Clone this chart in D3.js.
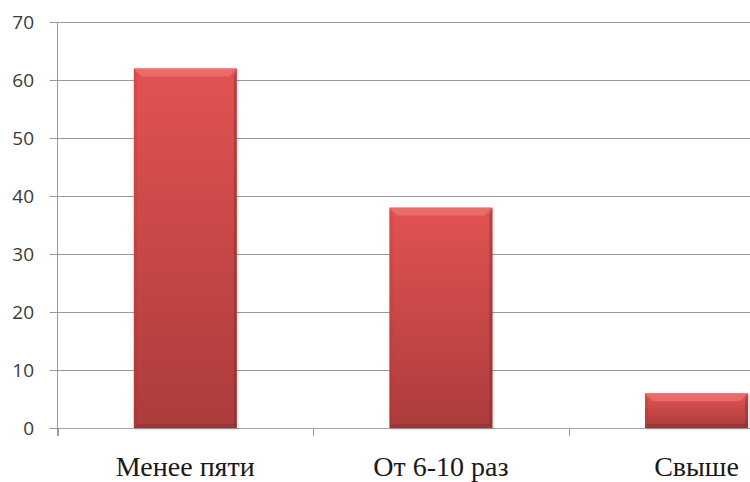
<!DOCTYPE html>
<html>
<head>
<meta charset="utf-8">
<script src="https://cdn.jsdelivr.net/npm/d3@7"></script>
<style>
  html, body { margin: 0; padding: 0; background: #fff; }
  svg { display: block; }
</style>
</head>
<body>
<script>
var categories = ["Менее пяти", "От 6-10 раз", "Свыше"];
var values = [62, 38, 6];
var yTicks = [0, 10, 20, 30, 40, 50, 60, 70];

var width = 750, height = 482;
var plotLeft = 57.5, plotTop = 22, plotBottom = 428;
var step = 255.6;

var svg = d3.select("body").append("svg")
    .attr("width", width)
    .attr("height", height);

var defs = svg.append("defs");
var grad = defs.append("linearGradient")
    .attr("id", "barGrad")
    .attr("x1", 0).attr("y1", 0).attr("x2", 0).attr("y2", 1);
grad.append("stop").attr("offset", "0%").attr("stop-color", "#e25352");
grad.append("stop").attr("offset", "100%").attr("stop-color", "#ac3c3c");

var x = d3.scaleBand()
    .domain(categories)
    .range([plotLeft, plotLeft + step * categories.length])
    .padding(0);

var y = d3.scaleLinear()
    .domain([0, 70])
    .range([plotBottom, plotTop]);

// gridlines
svg.append("g").selectAll("line")
    .data(yTicks)
    .enter().append("line")
    .attr("x1", plotLeft)
    .attr("x2", width)
    .attr("y1", function(d){ return Math.round(y(d)) + 0.5; })
    .attr("y2", function(d){ return Math.round(y(d)) + 0.5; })
    .attr("stroke", function(d){ return d == 0 ? "#a6a6a6" : "#9a9a9a"; })
    .attr("stroke-width", 1);

// y axis line and ticks
svg.append("line")
    .attr("x1", plotLeft).attr("x2", plotLeft)
    .attr("y1", plotTop).attr("y2", plotBottom + 8)
    .attr("stroke", "#9a9a9a");

svg.append("g").selectAll("line")
    .data(yTicks)
    .enter().append("line")
    .attr("x1", plotLeft - 8).attr("x2", plotLeft)
    .attr("y1", function(d){ return Math.round(y(d)) + 0.5; })
    .attr("y2", function(d){ return Math.round(y(d)) + 0.5; })
    .attr("stroke", "#9a9a9a");

svg.append("g").selectAll("text")
    .data(yTicks)
    .enter().append("text")
    .attr("x", 34)
    .attr("y", function(d){ return y(d); })
    .attr("dy", "0.36em")
    .attr("text-anchor", "end")
    .attr("font-family", "'Open Sans', sans-serif")
    .attr("font-size", "19px")
    .attr("fill", "#3a3a3a")
    .text(function(d){ return d; });

// x ticks at category boundaries
var bounds = categories.map(function(c){ return x(c); }).concat([x(categories[categories.length-1]) + x.bandwidth()]);
svg.append("g").selectAll("line")
    .data(bounds)
    .enter().append("line")
    .attr("x1", function(d){ return Math.round(d) + 0.5; })
    .attr("x2", function(d){ return Math.round(d) + 0.5; })
    .attr("y1", plotBottom)
    .attr("y2", plotBottom + 8)
    .attr("stroke", "#9a9a9a");

// bars
var barW = x.bandwidth() * 0.403;
var bars = svg.append("g").selectAll("g")
    .data(values)
    .enter().append("g")
    .attr("transform", function(d, i){
        return "translate(" + (x(categories[i]) + (x.bandwidth() - barW) / 2) + ",0)";
    });

// soft shadow
bars.append("rect")
    .attr("x", 1).attr("y", function(d){ return y(d) + 1; })
    .attr("width", barW + 1).attr("height", function(d){ return plotBottom - y(d) + 1; })
    .attr("fill", "rgba(0,0,0,0.10)");

bars.append("rect")
    .attr("x", 0)
    .attr("y", function(d){ return y(d); })
    .attr("width", barW)
    .attr("height", function(d){ return plotBottom - y(d); })
    .attr("fill", "url(#barGrad)");

var tb = 8, sb = 3;
// top bevel highlight
bars.append("polygon")
    .attr("points", function(d){
        var t = y(d);
        return [[0, t], [barW, t], [barW - tb, t + tb], [tb, t + tb]].join(" ");
    })
    .attr("fill", "#ef7f7c")
    .attr("opacity", 0.6);
// right bevel shade
bars.append("polygon")
    .attr("points", function(d){
        var t = y(d);
        return [[barW, t], [barW, plotBottom], [barW - sb, plotBottom - sb], [barW - sb, t + tb]].join(" ");
    })
    .attr("fill", "#7e2626")
    .attr("opacity", 0.4);
// left bevel
bars.append("polygon")
    .attr("points", function(d){
        var t = y(d);
        return [[0, t], [sb, t + tb], [sb, plotBottom - sb], [0, plotBottom]].join(" ");
    })
    .attr("fill", "#9a3030")
    .attr("opacity", 0.2);
// bottom bevel
bars.append("polygon")
    .attr("points", function(d){
        return [[0, plotBottom], [barW, plotBottom], [barW - sb, plotBottom - 4], [sb, plotBottom - 4]].join(" ");
    })
    .attr("fill", "#7e2828")
    .attr("opacity", 0.35);

// category labels
svg.append("g").selectAll("text")
    .data(categories)
    .enter().append("text")
    .attr("x", function(d){ return x(d) + x.bandwidth() / 2; })
    .attr("y", 476)
    .attr("text-anchor", "middle")
    .attr("font-family", "'Liberation Serif', 'Times New Roman', serif")
    .attr("font-size", "28px")
    .attr("fill", "#1a1a1a")
    .text(function(d){ return d; });
</script>
</body>
</html>
